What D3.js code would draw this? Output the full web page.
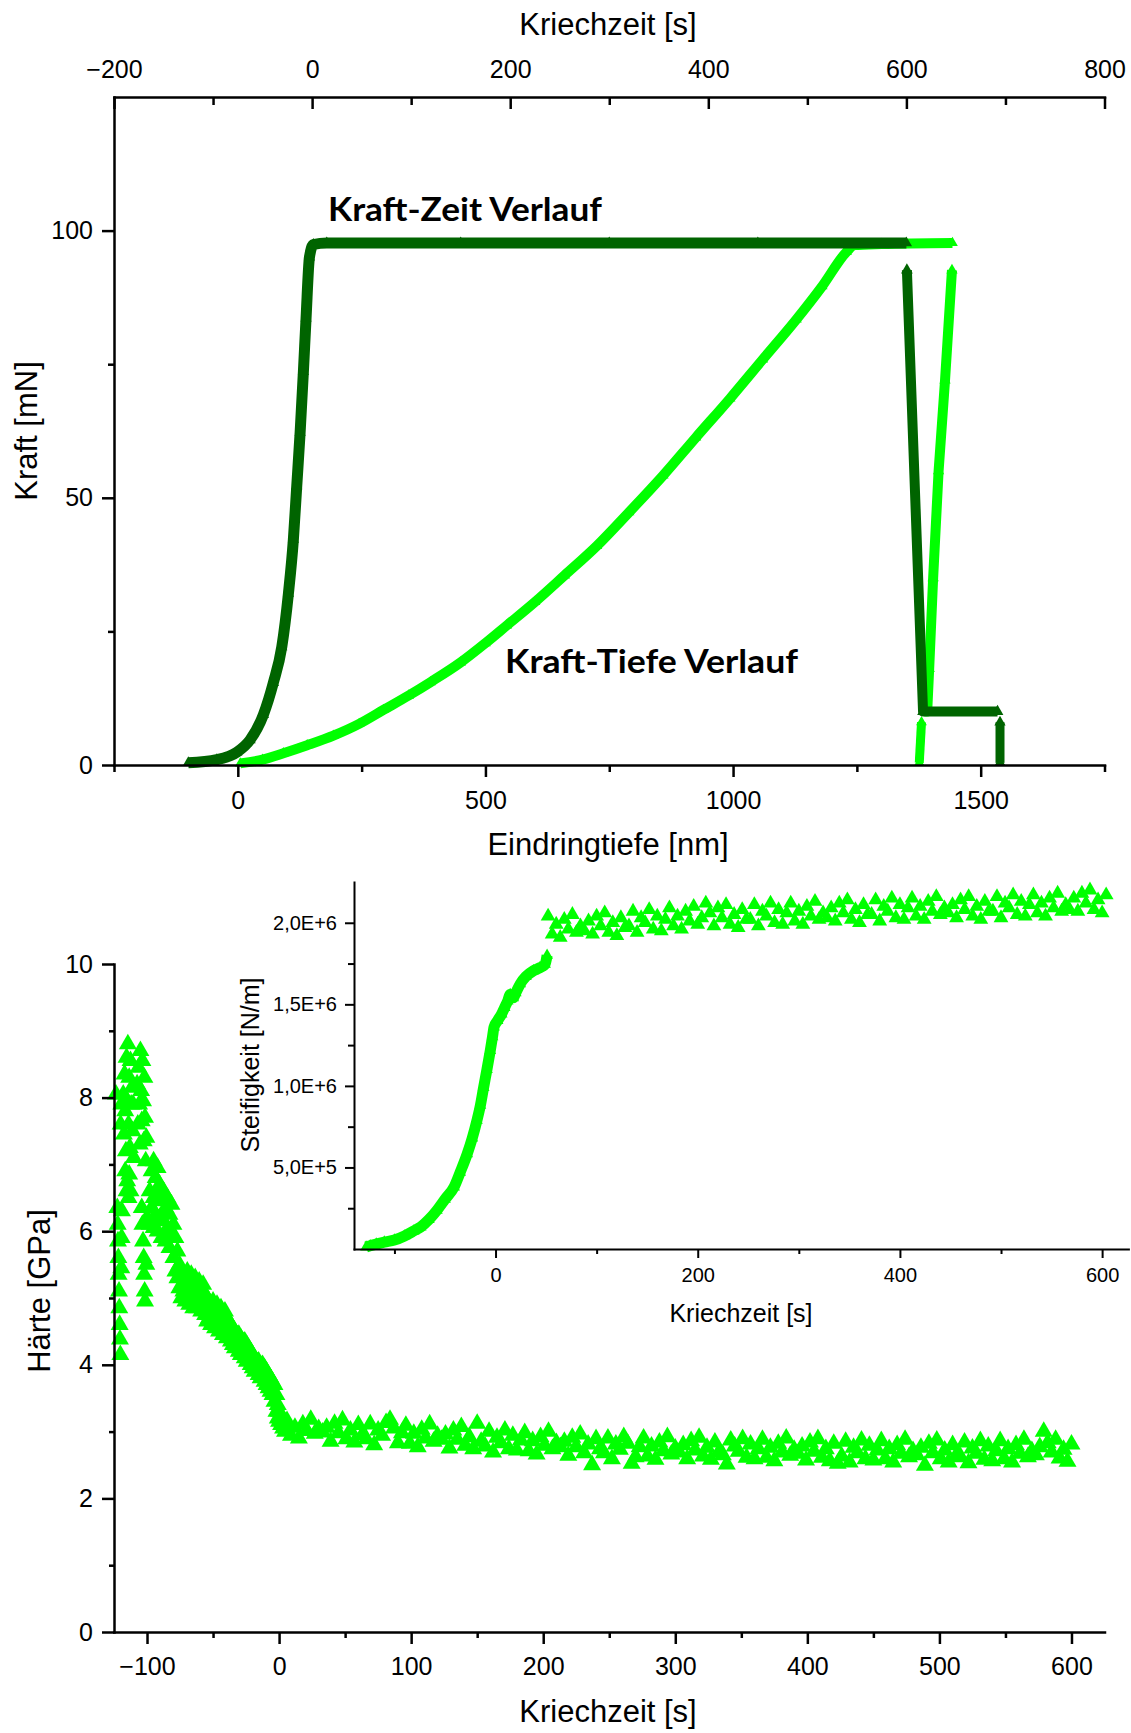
<!DOCTYPE html>
<html><head><meta charset="utf-8">
<script src="https://cdn.jsdelivr.net/npm/d3@7"></script>
<style>
body{margin:0;background:#fff;}
</style></head><body>
<svg id="c" width="1131" height="1733"></svg>
<script>
// ================= DATA =================
// --- top chart axes ---
const depthDomain = [-250, 1750];
const depthMajorTicks = [0, 500, 1000, 1500];
const depthMajorLabels = ["0", "500", "1000", "1500"];
const depthMinorTicks = [-250, 250, 750, 1250, 1750];
const topTimeDomain = [-200, 800];
const topTimeMajorTicks = [-200, 0, 200, 400, 600, 800];
const topTimeMajorLabels = ["\u2212200", "0", "200", "400", "600", "800"];
const topTimeMinorTicks = [-100, 100, 300, 500, 700];
const forceDomain = [0, 125];
const forceMajorTicks = [0, 50, 100];
const forceMajorLabels = ["0", "50", "100"];
const forceMinorTicks = [25, 75];

// --- Kraft-Zeit (dark, force [mN] vs. Kriechzeit [s], top axis) ---
const kraftZeitLoad = [[-125,0.4],[-96.2,1.0],[-76,2.4],[-62.6,4.7],[-49.2,9.4],[-39.1,15.4],[-30.6,22.1],[-23.9,32.1],[-18.9,42.2],[-15.5,52.2],[-12.1,62.2],[-8.8,73.6],[-6.1,83.6],[-2.7,95.0],[1.3,97.4],[14.8,97.7],[150,97.7],[300,97.7],[450,97.7],[600,97.7]];
const kraftZeitUnload = [[600.5,92.6],[616.8,10.0],[692,10.0]];
const kraftZeitFinal = [[694.5,8.0],[694.5,0.4]];

// --- Kraft-Tiefe (light, force [mN] vs. Eindringtiefe [nm], bottom axis) ---
const kraftTiefeLoad = [[5,0.3],[50,1.0],[92,2.2],[140,3.7],[193,5.5],[245,7.7],[294,10.3],[345,13.0],[389,15.5],[450,19.2],[500,22.8],[543,26.1],[600,30.5],[660,35.5],[725,41.0],[790,47.3],[859,54.2],[925,61.3],[994,68.6],[1060,75.9],[1128,83.4],[1180,89.6],[1229,96.0],[1245,97.3],[1300,97.5],[1443,97.7]];
const kraftTiefeUnload = [[1442,92.6],[1428,72],[1415,55],[1404,35],[1396,18],[1392,10],[1386,10]];
const kraftTiefeFinal = [[1380.5,8.0],[1376,0.4]];

// --- hardness chart axes ---
const creepTimeDomain = [-125, 625];
const creepMajorTicks = [-100, 0, 100, 200, 300, 400, 500, 600];
const creepMajorLabels = ["\u2212100", "0", "100", "200", "300", "400", "500", "600"];
const creepMinorTicks = [-50, 50, 150, 250, 350, 450, 550];
const hardnessDomain = [0, 10];
const hardnessMajorTicks = [0, 2, 4, 6, 8, 10];
const hardnessMajorLabels = ["0", "2", "4", "6", "8", "10"];
const hardnessMinorTicks = [1, 3, 5, 7, 9];

// --- Härte [GPa] vs. Kriechzeit [s] : loading phase ---
const hardnessLoading = [
[-123.5,8.05],[-122.5,6.35],[-122.2,6.1],[-122,5.85],[-121.7,5.6],[-121.5,5.35],[-121.2,5.1],[-121,4.85],[-120.7,4.6],[-120.5,4.38],[-120.2,4.15],[-119.5,5.45],[-119.2,5.9],[-119,6.3],[-120,7.6],[-119.5,7.9],
[-118,8.05],[-117.5,7.45],[-117,8.35],[-116.5,7.8],[-116,7.2],[-115.5,8.6],[-115,7.95],[-114.5,8.8],[-114,7.6],[-113.5,8.3],[-113,7.25],[-112.5,8.55],[-112,7.9],[-111.5,8.15],[-111,7.5],[-110.5,7.9],[-110,7.1],[-116.5,6.9],[-115.5,6.6],[-115,6.75],[-114,6.5],[-113.5,6.85],[-112.5,6.6],
[-107.5,8.2],[-107,7.6],[-106.5,8.45],[-106,7.9],[-105.5,7.3],[-105,8.7],[-104.5,8.1],[-104,7.65],[-103.5,8.55],[-103,7.95],[-102.5,7.35],[-102,8.3],[-101.5,7.7],[-101,7.05],[-100.5,7.4],[-104,6.35],[-103.5,6.1],[-103,5.85],[-102.5,5.6],[-102.2,5.35],[-101.8,5.1],[-101.5,4.95],[-100.5,5.5],[-100,6.2],
[-98,6.1],[-98,6.6],[-96.5,6.35],[-96.5,6.9],[-95,6.05],[-95,6.5],[-95,7.05],[-93.5,6.25],[-93.5,6.8],[-92,6.0],[-92,6.55],[-92,6.95],[-90.5,6.2],[-90.5,6.7],[-89,5.9],[-89,6.45],[-87.5,6.15],[-87.5,6.6],[-86,5.85],[-86,6.35],[-84.5,6.05],[-84.5,6.5],[-83,5.75],[-83,6.25],[-81.5,5.95],[-81.5,6.4],[-80,5.6],[-80,6.1],[-78.5,5.4],[-78.5,5.9],[-77,5.3],[-77,5.7],[-75.5,5.15],[-75.5,5.5],[-74,5.0],[-74,5.4],[-72.5,5.1],[-72.5,5.35],[-71,4.95],[-71,5.3],[-69.5,5.05],[-69.5,5.4],[-68,4.9],[-68,5.25],[-66.5,5.0],[-66.5,5.35],[-65,4.85],[-65,5.2],[-63.5,4.95],[-63.5,5.3],[-62,4.85],[-62,5.15],[-60.5,4.9],[-60.5,5.25],[-59,4.8],[-59,5.1],[-57.5,4.85],[-57.5,5.2],[-56,4.75],[-56,5.05],[-54.5,4.65],[-54.5,5.0],[-53,4.7],[-53,4.95],[-51.5,4.6],[-51.5,4.9],[-50,4.65],[-50,4.95],[-48.5,4.55],[-48.5,4.85],[-47,4.6],[-47,4.9],[-45.5,4.5],[-45.5,4.8],[-44,4.55],[-44,4.85],[-42.5,4.45],[-42.5,4.75],[-41,4.5],[-41,4.8],[-39.5,4.4],[-39.5,4.7],[-38,4.45],[-38,4.65],[-36.5,4.35],[-36.5,4.6],[-35,4.3],[-35,4.55],[-33.5,4.25],[-33.5,4.5],[-32,4.3],[-32,4.45],[-30.5,4.2],[-30.5,4.45],[-29,4.15],[-29,4.4],[-27.5,4.2],[-27.5,4.35],[-26,4.1],[-26,4.35],[-24.5,4.05],[-24.5,4.3],[-23,4.1],[-23,4.25],[-21.5,4.0],[-21.5,4.2],[-20,3.95],[-20,4.15],[-18.5,3.9],[-18.5,4.1],[-17,3.95],[-17,4.05],[-15.5,3.85],[-15.5,4.05],[-14,3.8],[-14,4.0],[-12.5,3.85],[-12.5,4.0],[-11,3.75],[-11,3.95],[-9.5,3.7],[-9.5,3.9],[-8,3.65],[-8,3.85],[-6.5,3.6],[-6.5,3.8],[-5,3.55],[-5,3.75],[-3.5,3.45],[-3.5,3.7],[-2,3.3],[-2,3.55],[-1,3.2],[-1,3.4],[0,3.15],[0,3.3],[1.5,3.1],[1.5,3.2],[3,3.05],[3,3.15],[3,3.2],[4.5,3.0],[4.5,3.1]
];
// --- Härte [GPa] vs. Kriechzeit [s] : creep (hold) phase ---
const hardnessCreep = [
[6,3.16],[9,2.94],[12,3.06],[15,2.90],[18,3.11],[21,3.01],[24,3.18],[27,2.97],[30,3.04],[33,2.99],
[36,3.06],[39,2.85],[42,3.12],[45,2.98],[48,3.17],[51,2.89],[54,3.02],[57,2.84],[60,3.10],[63,2.95],
[66,2.89],[69,3.11],[72,2.80],[75,3.02],[78,2.94],[81,3.13],[84,3.18],[87,3.05],[90,2.83],[93,2.98],
[96,3.09],[99,2.82],[102,2.97],[105,2.77],[108,3.03],[111,2.90],[114,3.11],[117,2.85],[120,2.94],[123,2.88],
[126,2.96],[129,2.75],[132,3.02],[135,2.88],[138,3.07],[141,2.79],[144,2.92],[147,2.74],[150,3.12],[153,2.85],
[156,2.78],[159,3.00],[162,2.69],[165,2.91],[168,2.83],[171,3.02],[174,2.74],[177,2.94],[180,2.72],[183,2.87],
[186,2.98],[189,2.71],[192,2.86],[195,2.66],[198,2.92],[201,2.79],[204,3.00],[207,2.74],[210,2.83],[213,2.77],
[216,2.85],[219,2.64],[222,2.91],[225,2.77],[228,2.96],[231,2.68],[234,2.81],[237,2.50],[240,2.89],[243,2.74],
[246,2.68],[249,2.90],[252,2.59],[255,2.81],[258,2.73],[261,2.92],[264,2.82],[267,2.52],[270,2.62],[273,2.77],
[276,2.90],[279,2.63],[282,2.78],[285,2.58],[288,2.84],[291,2.71],[294,2.92],[297,2.66],[300,2.75],[303,2.69],
[306,2.80],[309,2.59],[312,2.86],[315,2.72],[318,2.91],[321,2.63],[324,2.76],[327,2.58],[330,2.84],[333,2.69],
[336,2.65],[339,2.51],[342,2.87],[345,2.78],[348,2.70],[351,2.89],[354,2.61],[357,2.81],[360,2.59],[363,2.74],
[366,2.88],[369,2.61],[372,2.76],[375,2.56],[378,2.82],[381,2.69],[384,2.90],[387,2.64],[390,2.73],[393,2.67],
[396,2.78],[399,2.57],[402,2.84],[405,2.70],[408,2.89],[411,2.61],[414,2.74],[417,2.56],[420,2.82],[423,2.52],
[426,2.63],[429,2.85],[432,2.54],[435,2.76],[438,2.68],[441,2.87],[444,2.59],[447,2.79],[450,2.57],[453,2.72],
[456,2.86],[459,2.59],[462,2.74],[465,2.54],[468,2.80],[471,2.67],[474,2.88],[477,2.62],[480,2.71],[483,2.65],
[486,2.76],[489,2.49],[492,2.82],[495,2.68],[498,2.87],[501,2.59],[504,2.72],[507,2.54],[510,2.80],[513,2.65],
[516,2.62],[519,2.84],[522,2.53],[525,2.75],[528,2.67],[531,2.86],[534,2.58],[537,2.78],[540,2.56],[543,2.71],
[546,2.86],[549,2.59],[552,2.74],[555,2.54],[558,2.80],[561,2.67],[564,2.88],[567,2.62],[570,2.71],[573,2.65],
[576,2.77],[579,3.00],[582,2.83],[585,2.69],[588,2.88],[591,2.60],[594,2.73],[597,2.55],[600,2.81]
];

// --- inset axes ---
const insetTimeDomain = [-140, 626];
const insetTimeMajorTicks = [0, 200, 400, 600];
const insetTimeMajorLabels = ["0", "200", "400", "600"];
const insetTimeMinorTicks = [-100, 100, 300, 500];
const stiffnessDomain = [0, 2.25];           // in 1E+6 N/m
const stiffnessMajorTicks = [0.5, 1.0, 1.5, 2.0];
const stiffnessMajorLabels = ["5,0E+5", "1,0E+6", "1,5E+6", "2,0E+6"];
const stiffnessMinorTicks = [0.25, 0.75, 1.25, 1.75];

// --- Steifigkeit [1E+6 N/m] vs. Kriechzeit [s] ---
const stiffnessLoading = [[-128,0.012],[-124,0.02],[-118,0.03],[-110,0.042],[-100,0.055],[-90,0.08],[-81,0.11],[-74,0.135],[-66,0.18],[-58,0.237],[-50,0.305],[-41,0.38],[-35,0.47],[-28,0.583],[-23,0.68],[-18.4,0.788],[-15,0.88],[-11.8,0.99],[-8.5,1.10],[-5.2,1.216],[-3,1.30],[-1.5,1.36],[2,1.40],[6,1.44],[9,1.48],[12,1.52],[14.5,1.56],[17.5,1.54],[20,1.57],[24.4,1.625],[30,1.67],[37.5,1.706],[44,1.725],[49,1.745],[51,1.80]];
const stiffnessCreep = [
[52,2.04],[56,1.93],[60,1.99],[64,1.91],[68,2.02],[72,1.96],[76,2.05],[80,1.94],[84,1.98],[88,1.95],
[92,2.01],[96,1.93],[100,2.04],[104,1.98],[108,2.06],[112,1.94],[116,2.00],[120,1.92],[124,2.03],[128,1.97],
[132,1.98],[136,2.07],[140,1.94],[144,2.03],[148,2.00],[152,2.08],[156,1.96],[160,2.04],[164,1.95],[168,2.02],
[172,2.09],[176,1.98],[180,2.04],[184,1.96],[188,2.07],[192,2.01],[196,2.10],[200,1.99],[204,2.03],[208,2.12],
[212,2.06],[216,1.98],[220,2.09],[224,2.03],[228,2.11],[232,1.99],[236,2.05],[240,1.97],[244,2.08],[248,2.02],
[252,2.02],[256,2.11],[260,1.98],[264,2.07],[268,2.04],[272,2.12],[276,2.00],[280,2.08],[284,1.99],[288,2.06],
[292,2.12],[296,2.01],[300,2.07],[304,1.99],[308,2.10],[312,2.04],[316,2.13],[320,2.02],[324,2.06],[328,2.03],
[332,2.09],[336,2.01],[340,2.12],[344,2.06],[348,2.14],[352,2.02],[356,2.08],[360,2.00],[364,2.11],[368,2.05],
[372,2.05],[376,2.14],[380,2.01],[384,2.10],[388,2.07],[392,2.15],[396,2.03],[400,2.11],[404,2.02],[408,2.09],
[412,2.15],[416,2.04],[420,2.10],[424,2.02],[428,2.13],[432,2.07],[436,2.16],[440,2.05],[444,2.09],[448,2.06],
[452,2.11],[456,2.03],[460,2.14],[464,2.08],[468,2.16],[472,2.04],[476,2.10],[480,2.02],[484,2.13],[488,2.07],
[492,2.07],[496,2.16],[500,2.03],[504,2.12],[508,2.09],[512,2.17],[516,2.05],[520,2.13],[524,2.04],[528,2.11],
[532,2.17],[536,2.06],[540,2.12],[544,2.04],[548,2.15],[552,2.09],[556,2.18],[560,2.07],[564,2.11],[568,2.08],
[572,2.15],[576,2.07],[580,2.18],[584,2.12],[588,2.20],[592,2.08],[596,2.14],[600,2.06],[604,2.17]
];

// ================= DRAWING =================
const FONT = '"Liberation Sans", Arial, Helvetica, sans-serif';
const BOLDFONT = 'Lato, "Open Sans", "Noto Sans", sans-serif';
const DARK = "#006400", LIGHT = "#00ff00";
const svg = d3.select("#c");
svg.append("rect").attr("width", 1131).attr("height", 1733).attr("fill", "#fff");

function drawAxis(parent, tx, ty, axisFn, scale, major, labels, minor, majLen, minLen, pad, fs, sw) {
  const g = parent.append("g").attr("transform", `translate(${tx},${ty})`);
  g.append("g").call(axisFn(scale).tickValues(minor).tickSizeInner(minLen).tickSizeOuter(0).tickFormat(""))
    .call(s => s.select(".domain").remove());
  g.append("g").call(axisFn(scale).tickValues(major).tickSizeInner(majLen).tickSizeOuter(0)
    .tickPadding(pad).tickFormat((d, i) => labels[i]));
  g.selectAll(".domain").attr("stroke", "#000").attr("stroke-width", sw).attr("stroke-linecap", "square");
  g.selectAll(".tick line").attr("stroke", "#000").attr("stroke-width", sw);
  g.selectAll(".tick text").attr("fill", "#000").attr("font-family", FONT).attr("font-size", fs);
  return g;
}
const tri = s => d3.symbol().type(d3.symbolTriangle).size(s)();

function drawCurve(g, pts, xs, ys, color, width, curve, msize) {
  g.append("path").datum(pts)
    .attr("d", d3.line().x(d => xs(d[0])).y(d => ys(d[1])).curve(curve))
    .attr("fill", "none").attr("stroke", color).attr("stroke-width", width)
    .attr("stroke-linejoin", "round");
  g.selectAll(null).data(pts).enter().append("path")
    .attr("d", tri(msize)).attr("fill", color)
    .attr("transform", d => `translate(${xs(d[0])},${ys(d[1])})`);
}
function drawScatter(g, pts, xs, ys, color, msize) {
  g.selectAll(null).data(pts).enter().append("path")
    .attr("d", tri(msize)).attr("fill", color)
    .attr("transform", d => `translate(${xs(d[0])},${ys(d[1])})`);
}
function label(txt, x, y, fs, opts = {}) {
  const t = svg.append("text").text(txt).attr("x", x).attr("y", y)
    .attr("font-family", opts.font || FONT).attr("font-size", fs)
    .attr("font-weight", opts.weight || "normal").attr("fill", "#000")
    .attr("text-anchor", opts.anchor || "middle");
  if (opts.rotate) t.attr("transform", `rotate(-90,${x},${y})`);
  if (opts.len) t.attr("textLength", opts.len).attr("lengthAdjust", "spacingAndGlyphs");
  return t;
}

// ---------- top chart ----------
const T = { left: 114, right: 1104.5, top: 97, bottom: 765 };
const xDepth = d3.scaleLinear().domain(depthDomain).range([T.left, T.right]);
const xTimeTop = d3.scaleLinear().domain(topTimeDomain).range([T.left, T.right]);
const yForce = d3.scaleLinear().domain(forceDomain).range([T.bottom, T.top]);

const gTop = svg.append("g");
drawCurve(gTop, kraftTiefeLoad, xDepth, yForce, LIGHT, 10, d3.curveMonotoneX, 50);
drawCurve(gTop, kraftTiefeUnload, xDepth, yForce, LIGHT, 10, d3.curveLinear, 55);
drawCurve(gTop, kraftTiefeFinal, xDepth, yForce, LIGHT, 9, d3.curveLinear, 50);
drawCurve(gTop, kraftZeitLoad, xTimeTop, yForce, DARK, 11, d3.curveMonotoneX, 55);
drawCurve(gTop, kraftZeitUnload, xTimeTop, yForce, DARK, 10, d3.curveLinear, 60);
drawCurve(gTop, kraftZeitFinal, xTimeTop, yForce, DARK, 9, d3.curveLinear, 55);

drawAxis(svg, 0, T.bottom, d3.axisBottom, xDepth, depthMajorTicks, depthMajorLabels, depthMinorTicks, 12, 7, 14, 25, 2.5);
drawAxis(svg, 0, T.top, d3.axisTop, xTimeTop, topTimeMajorTicks, topTimeMajorLabels, topTimeMinorTicks, -12, -8, 19, 25, 2.5);
drawAxis(svg, T.left, 0, d3.axisLeft, yForce, forceMajorTicks, forceMajorLabels, forceMinorTicks, 12, 6, 9, 25, 2.5);

label("Kriechzeit [s]", 608, 35, 31);
label("Eindringtiefe [nm]", 608, 855, 31);
label("Kraft [mN]", 37, 431, 31, { rotate: true });
label("Kraft-Zeit Verlauf", 328, 221, 33, { anchor: "start", weight: "bold", font: BOLDFONT, len: 274 });
label("Kraft-Tiefe Verlauf", 505, 673, 33, { anchor: "start", weight: "bold", font: BOLDFONT, len: 293 });

// ---------- hardness chart ----------
const B = { left: 114, right: 1104.5, top: 964, bottom: 1632 };
const xCreep = d3.scaleLinear().domain(creepTimeDomain).range([B.left, B.right]);
const yHard = d3.scaleLinear().domain(hardnessDomain).range([B.bottom, B.top]);
const gHard = svg.append("g");
drawScatter(gHard, hardnessLoading, xCreep, yHard, LIGHT, 140);
drawScatter(gHard, hardnessCreep, xCreep, yHard, LIGHT, 140);

drawAxis(svg, 0, B.bottom, d3.axisBottom, xCreep, creepMajorTicks, creepMajorLabels, creepMinorTicks, 12, 6, 13, 25, 2.5);
drawAxis(svg, B.left, 0, d3.axisLeft, yHard, hardnessMajorTicks, hardnessMajorLabels, hardnessMinorTicks, 12, 5, 9, 25, 2.5);
label("Kriechzeit [s]", 608, 1722, 31);
label("Härte [GPa]", 50, 1291, 31, { rotate: true });

// ---------- inset ----------
const I = { left: 354, right: 1128.4, top: 882, bottom: 1249 };
const xIn = d3.scaleLinear().domain(insetTimeDomain).range([I.left, I.right]);
const yIn = d3.scaleLinear().domain(stiffnessDomain).range([I.bottom, I.top]);
const gIn = svg.append("g");
drawCurve(gIn, stiffnessLoading, xIn, yIn, LIGHT, 11, d3.curveMonotoneX, 60);
drawScatter(gIn, stiffnessCreep, xIn, yIn, LIGHT, 95);

drawAxis(svg, 0, I.bottom, d3.axisBottom, xIn, insetTimeMajorTicks, insetTimeMajorLabels, insetTimeMinorTicks, 9, 5, 10, 20, 2);
drawAxis(svg, I.left, 0, d3.axisLeft, yIn, stiffnessMajorTicks, stiffnessMajorLabels, stiffnessMinorTicks, 9, 6, 8, 20, 2);
label("Kriechzeit [s]", 741, 1322, 25);
label("Steifigkeit [N/m]", 259, 1065, 25, { rotate: true });
</script>
</body></html>
